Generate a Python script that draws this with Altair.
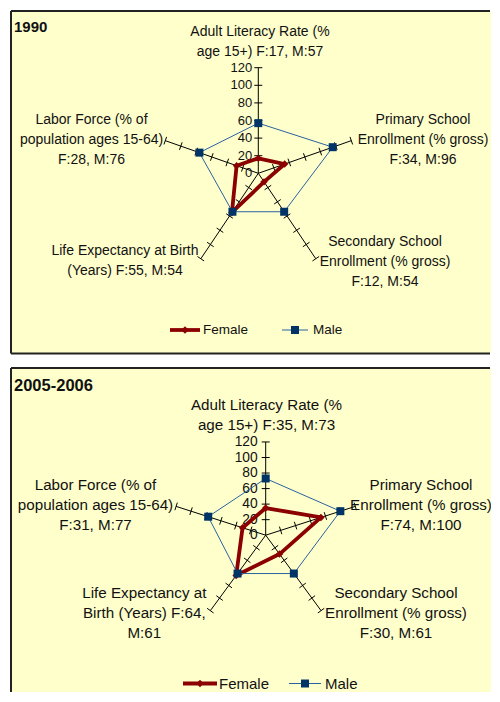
import altair as alt
import numpy as np
import pandas as pd

# ---------------- data ----------------
categories = [
    "Adult Literacy Rate",
    "Primary School Enrollment",
    "Secondary School Enrollment",
    "Life Expectancy at Birth",
    "Labor Force",
]
female_1990 = [17, 34, 12, 55, 28]
male_1990 = [57, 96, 54, 54, 76]
female_2005 = [35, 74, 30, 64, 31]
male_2005 = [73, 100, 61, 61, 77]

labels_1990 = [
    ["Adult Literacy Rate (%", "age 15+) F:17, M:57"],
    ["Primary School", "Enrollment (% gross)", "F:34, M:96"],
    ["Secondary School", "Enrollment (% gross)", "F:12, M:54"],
    ["Life Expectancy at Birth", "(Years) F:55, M:54"],
    ["Labor Force (% of", "population ages 15-64)", "F:28, M:76"],
]
labels_2005 = [
    ["Adult Literacy Rate (%", "age 15+) F:35, M:73"],
    ["Primary School", "Enrollment (% gross)", "F:74, M:100"],
    ["Secondary School", "Enrollment (% gross)", "F:30, M:61"],
    ["Life Expectancy at", "Birth (Years) F:64,", "M:61"],
    ["Labor Force (% of", "population ages 15-64)", "F:31, M:77"],
]
tick_values = [0, 20, 40, 60, 80, 100, 120]
series_names = ["Female", "Male"]
panel_titles = ["1990", "2005-2006"]

# ---------------- styles / layout ----------------
FONT = "Liberation Sans"
FEMALE_COLOR = "#8B0000"
MALE_LINE = "#2A62A0"
MALE_MARK = "#003366"
BG = "#FFFFCC"
TEXT = "#111111"
BORDER = "#222222"

VIEW_LEFT = 11
VIEW_W = 480

LAYOUTS = [
    dict(top=11, height=342.5, cx=258.3, cy=173.3, kx=0.815, ky=0.88, bottom_border=True,
         anchors=[(260, 32), (423, 120), (385, 242), (125, 251), (91.5, 120)],
         line_h=20, label_fs=14, tick_fs=13, tick_gap=6, title_fs=15, title_xy=(14, 27),
         legend_y=330, leg_f=(170, 200, 203), leg_m=(282, 308, 313), legend_fs=13.5),
    dict(top=365.5, height=324, cx=265.7, cy=532.7, kx=0.785, ky=0.777, bottom_border=False,
         anchors=[(266.5, 402.3), (421, 482.3), (396, 590.7), (144.3, 590.7), (95.5, 482.3)],
         line_h=20, label_fs=15.2, tick_fs=13.8, tick_gap=8, title_fs=16.5, title_xy=(14, 383),
         legend_y=681, leg_f=(183, 217, 219), leg_m=(289, 321, 325), legend_fs=15),
]


def panel(title, labels, female, male, L):
    cx, cy, kx, ky = L["cx"], L["cy"], L["kx"], L["ky"]
    top, h = L["top"], L["height"]
    xs = alt.Scale(domain=[VIEW_LEFT - cx, VIEW_LEFT + VIEW_W - cx], nice=False, zero=False)
    ys = alt.Scale(domain=[cy - (top + h), cy - top], nice=False, zero=False)
    n = len(categories)
    ang = np.arange(n) * 2 * np.pi / n
    dirx = kx * np.sin(ang)
    diry = ky * np.cos(ang)

    def X(f):
        return alt.X(f, type="quantitative", scale=xs, axis=None)

    def Y(f):
        return alt.Y(f, type="quantitative", scale=ys, axis=None)

    rows = []
    for name, vals in zip(series_names, (female, male)):
        for k in range(n + 1):
            i = k % n
            rows.append(dict(series=name, order=k, category=categories[i], value=vals[i],
                             px=vals[i] * dirx[i], py=vals[i] * diry[i]))
    poly = pd.DataFrame(rows)

    rmax = max(tick_values)
    spokes = pd.DataFrame(dict(x=np.zeros(n), y=np.zeros(n), x2=rmax * dirx, y2=rmax * diry))

    trows = []
    half = 4
    for i in range(n):
        nrm = np.hypot(dirx[i], diry[i])
        ux, uy = dirx[i] / nrm, diry[i] / nrm
        nx, ny = -uy, ux
        for v in tick_values[1:]:
            px, py = v * dirx[i], v * diry[i]
            trows.append(dict(x=px - half * nx, y=py - half * ny, x2=px + half * nx, y2=py + half * ny))
    ticks = pd.DataFrame(trows)

    tlab = pd.DataFrame(dict(label=[str(v) for v in tick_values],
                             x=[-L["tick_gap"]] * len(tick_values),
                             y=[v * diry[0] for v in tick_values]))

    lrows = []
    for (ax, ay), lines in zip(L["anchors"], labels):
        for j, t in enumerate(lines):
            lrows.append(dict(text=t, x=ax - cx, y=cy - (ay + j * L["line_h"])))
    labdf = pd.DataFrame(lrows)

    titledf = pd.DataFrame([dict(text=title, x=L["title_xy"][0] - cx, y=cy - L["title_xy"][1])])

    ly = cy - L["legend_y"]
    f0, f1, ft = L["leg_f"]
    m0, m1, mt = L["leg_m"]
    legdf = pd.DataFrame([
        dict(series="Female", x0=f0 - cx, x1=f1 - cx, xm=(f0 + f1) / 2 - cx, xt=ft - cx, y=ly),
        dict(series="Male", x0=m0 - cx, x1=m1 - cx, xm=(m0 + m1) / 2 - cx, xt=mt - cx, y=ly),
    ])
    legF = legdf[legdf.series == "Female"]
    legM = legdf[legdf.series == "Male"]

    one = pd.DataFrame({"a": [0]})
    border = [
        alt.Chart(one).mark_rule(color=BORDER, strokeWidth=2)
        .encode(x=alt.value(0), y=alt.value(0), y2=alt.value(h)),
        alt.Chart(one).mark_rule(color=BORDER, strokeWidth=2)
        .encode(x=alt.value(0), x2=alt.value(VIEW_W - 1), y=alt.value(0)),
    ]
    if L["bottom_border"]:
        border.append(alt.Chart(one).mark_rule(color=BORDER, strokeWidth=2)
                      .encode(x=alt.value(0), x2=alt.value(VIEW_W - 1), y=alt.value(h)))

    layers = [
        alt.Chart(spokes).mark_rule(color="black", strokeWidth=1).encode(x=X("x"), y=Y("y"), x2="x2", y2="y2"),
        alt.Chart(ticks).mark_rule(color="black", strokeWidth=1).encode(x=X("x"), y=Y("y"), x2="x2", y2="y2"),
        alt.Chart(tlab).mark_text(align="right", baseline="middle", font=FONT, fontSize=L["tick_fs"], color=TEXT)
        .encode(x=X("x"), y=Y("y"), text="label:N"),
        alt.Chart(poly[poly.series == "Female"]).mark_line(color=FEMALE_COLOR, strokeWidth=3.8, strokeJoin="round")
        .encode(x=X("px"), y=Y("py"), order="order:Q"),
        alt.Chart(poly[(poly.series == "Female") & (poly.order < n)]).mark_point(
            shape="diamond", filled=True, color=FEMALE_COLOR, size=55, opacity=1)
        .encode(x=X("px"), y=Y("py")),
        alt.Chart(poly[poly.series == "Male"]).mark_line(color=MALE_LINE, strokeWidth=1)
        .encode(x=X("px"), y=Y("py"), order="order:Q"),
        alt.Chart(poly[(poly.series == "Male") & (poly.order < n)]).mark_point(
            shape="square", filled=True, color=MALE_MARK, size=64, opacity=1)
        .encode(x=X("px"), y=Y("py")),
        alt.Chart(labdf).mark_text(align="center", baseline="middle", font=FONT, fontSize=L["label_fs"],
                                   color=TEXT, clip=True)
        .encode(x=X("x"), y=Y("y"), text="text:N"),
        alt.Chart(titledf).mark_text(align="left", baseline="middle", font=FONT, fontSize=L["title_fs"],
                                     fontWeight="bold", color=TEXT)
        .encode(x=X("x"), y=Y("y"), text="text:N"),
        alt.Chart(legF).mark_rule(color=FEMALE_COLOR, strokeWidth=3.8).encode(x=X("x0"), x2="x1", y=Y("y")),
        alt.Chart(legF).mark_point(shape="diamond", filled=True, color=FEMALE_COLOR, size=55, opacity=1)
        .encode(x=X("xm"), y=Y("y")),
        alt.Chart(legM).mark_rule(color=MALE_LINE, strokeWidth=1).encode(x=X("x0"), x2="x1", y=Y("y")),
        alt.Chart(legM).mark_point(shape="square", filled=True, color=MALE_MARK, size=64, opacity=1)
        .encode(x=X("xm"), y=Y("y")),
        alt.Chart(legdf).mark_text(align="left", baseline="middle", font=FONT, fontSize=L["legend_fs"], color=TEXT)
        .encode(x=X("xt"), y=Y("y"), text="series:N"),
    ] + border
    return alt.layer(*layers).properties(
        width=VIEW_W, height=h, view=alt.ViewBackground(fill=BG, stroke=None)
    )


top_chart = panel(panel_titles[0], labels_1990, female_1990, male_1990, LAYOUTS[0])
bottom_chart = panel(panel_titles[1], labels_2005, female_2005, male_2005, LAYOUTS[1])

chart = (
    alt.vconcat(top_chart, bottom_chart, spacing=12)
    .properties(padding={"left": 2, "top": 2, "right": 0, "bottom": 0}, background="white")
    .configure_view(fill=BG, strokeWidth=0)
)

chart.save("out.html", embed_options={"renderer": "svg", "actions": False})
